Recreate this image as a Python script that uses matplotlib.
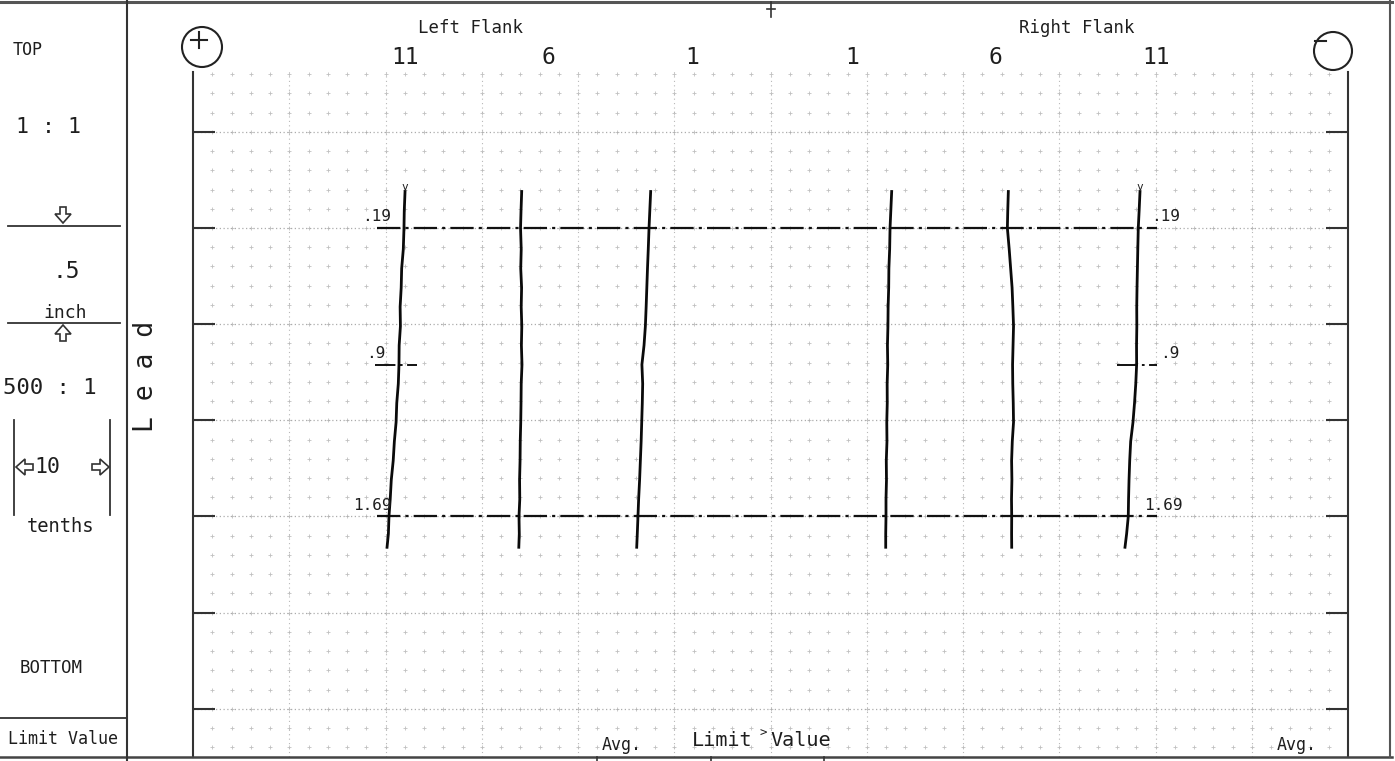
import numpy as np
import matplotlib
matplotlib.use("Agg")
import matplotlib.pyplot as plt
from matplotlib.patches import Circle, Polygon

# ---------------- data ----------------
# lead positions along the face width (inch)
lead = [0.00, 0.10, 0.19, 0.30, 0.40, 0.50, 0.60, 0.70, 0.80, 0.90,
        1.00, 1.10, 1.20, 1.30, 1.40, 1.50, 1.60, 1.69, 1.78, 1.85]

# traced lead curves (position across chart, in tenths)
left_11 = [22.03, 21.95, 21.92, 21.85, 21.68, 21.63, 21.52, 21.55, 21.42, 21.40,
           21.33, 21.17, 21.10, 20.92, 20.80, 20.60, 20.49, 20.36, 20.30, 20.16]
left_6 = [34.15, 34.08, 34.03, 34.10, 34.05, 34.14, 34.10, 34.16, 34.12, 34.18,
          34.10, 34.08, 34.05, 34.00, 33.98, 33.93, 33.95, 33.87, 33.90, 33.85]
left_1 = [47.55, 47.46, 47.38, 47.30, 47.22, 47.15, 47.08, 47.00, 46.86, 46.64,
          46.72, 46.68, 46.62, 46.56, 46.48, 46.40, 46.30, 46.23, 46.16, 46.10]
right_1 = [72.59, 72.50, 72.42, 72.38, 72.30, 72.28, 72.22, 72.20, 72.15, 72.18,
           72.12, 72.13, 72.08, 72.10, 72.03, 72.05, 72.00, 72.00, 71.97, 71.97]
right_6 = [84.71, 84.65, 84.61, 84.80, 84.95, 85.10, 85.18, 85.25, 85.20, 85.15,
           85.17, 85.22, 85.25, 85.12, 85.05, 85.08, 85.04, 85.06, 85.05, 85.06]
right_11 = [98.39, 98.30, 98.21, 98.16, 98.12, 98.08, 98.05, 98.06, 98.03, 98.04,
            97.95, 97.82, 97.66, 97.42, 97.32, 97.25, 97.20, 97.17, 97.00, 96.83]
traces = [left_11, left_6, left_1, right_1, right_6, right_11]

tooth_labels = ["11", "6", "1", "1", "6", "11"]
limit_full = [0.19, 1.69]          # evaluation range limits
limit_mid = 0.9                     # mid marker
limit_labels = [".19", ".9", "1.69"]
major_rows = [-0.31, 0.19, 0.69, 1.19, 1.69, 2.19, 2.69]

# ---------------- figure ----------------
W, H = 1395, 761
fig = plt.figure(figsize=(W / 100, H / 100), dpi=100)
fig.patch.set_facecolor("white")
MONO = "DejaVu Sans Mono"
TC = "#1e1e1e"

y0_px, px_per_in = 191.5, 192.3
top_px, bot_px = 72, 757
ax = fig.add_axes([193 / W, 1 - bot_px / H, (1348 - 193) / W, (bot_px - top_px) / H])
ax.set_xlim(0, 120)
ax.set_ylim((bot_px - y0_px) / px_per_in, (top_px - y0_px) / px_per_in)
ax.set_facecolor("none")

# dotted grid
gx = np.arange(2, 120, 2)
gy = np.arange(-0.61, 2.92, 0.1)
GX, GY = np.meshgrid(gx, gy)
ax.scatter(GX.ravel(), GY.ravel(), marker="+", s=5, lw=0.6, color="#c0c0c0", zorder=1)
for x in range(10, 120, 10):
    ax.axvline(x, ls=(0, (1, 3)), color="#b8b8b8", lw=0.8, zorder=1)
for y in major_rows:
    ax.axhline(y, ls=(0, (1, 2)), color="#acacac", lw=0.9, zorder=1)

ax.set_xticks([])
ax.set_yticks(major_rows)
ax.tick_params(axis="y", direction="in", length=16, width=1.5, color="#333333",
               left=True, right=True, labelleft=False, labelright=False)
for s in ["top", "bottom"]:
    ax.spines[s].set_visible(False)
for s in ["left", "right"]:
    ax.spines[s].set_linewidth(1.5)
    ax.spines[s].set_color("#333333")

# limit lines
dd = (0, (10.5, 2.3, 1.4, 2.3))
for y in limit_full:
    ax.hlines(y, 19.1, 100.2, colors="#111111", lw=1.6, linestyles=[dd], zorder=3)
ax.hlines(limit_mid, 18.9, 23.3, colors="#111111", lw=1.4, linestyles=[dd], zorder=3)
ax.hlines(limit_mid, 96.0, 100.2, colors="#111111", lw=1.4, linestyles=[dd], zorder=3)

# traces
for tr in traces:
    ax.plot(tr, lead, color="#0a0a0a", lw=2.0, zorder=4, solid_joinstyle="round")
# start markers of the 11th-tooth traces
for tr in (left_11, right_11):
    ax.text(tr[0], lead[0], "v", ha="center", va="bottom", fontsize=8,
            family=MONO, color=TC, zorder=5)

# limit labels
lab_y = [limit_full[0], limit_mid, limit_full[1]]
left_x = [20.6, 20.0, 20.6]
right_x = [99.5, 100.5, 98.8]
for ly, lt, lx, rx in zip(lab_y, limit_labels, left_x, right_x):
    ax.text(lx, ly - 0.02, lt, ha="right", va="bottom", fontsize=11.5,
            family=MONO, color=TC, zorder=5)
    ax.text(rx, ly - 0.02, lt, ha="left", va="bottom", fontsize=11.5,
            family=MONO, color=TC, zorder=5)

# ---------------- overlay (frame & annotations) ----------------
ov = fig.add_axes([0, 0, 1, 1])
ov.set_xlim(0, W)
ov.set_ylim(H, 0)
ov.axis("off")
LC = "#333333"
ov.plot([0, 1392], [1.5, 1.5], color="#555555", lw=2.2)
ov.plot([0, 1392], [756.5, 756.5], color="#444444", lw=1.8)
ov.plot([126.5, 126.5], [0, 761], color=LC, lw=1.5)
ov.plot([1390, 1390], [0, 757], color="#555555", lw=1.5)
for bx in [597, 711, 824]:
    ov.plot([bx, bx], [757, 761], color=LC, lw=1.2)
# left panel separators
ov.plot([8, 120], [226, 226], color=LC, lw=1.3)
ov.plot([8, 120], [323, 323], color=LC, lw=1.3)
ov.plot([0, 126], [718, 718], color=LC, lw=1.3)
ov.plot([14, 14], [420, 515], color=LC, lw=1.3)
ov.plot([110, 110], [420, 515], color=LC, lw=1.3)

def hollow_arrow(pts):
    ov.add_patch(Polygon(pts, closed=True, fill=False, ec=LC, lw=1.2))

# down arrow
hollow_arrow([(60, 207), (66, 207), (66, 214), (71, 214), (63, 223), (55, 214), (60, 214)])
# up arrow
hollow_arrow([(60, 341), (66, 341), (66, 334), (71, 334), (63, 325), (55, 334), (60, 334)])
# left arrow
hollow_arrow([(33, 464), (33, 470), (25, 470), (25, 475), (16, 467), (25, 459), (25, 464)])
# right arrow
hollow_arrow([(92, 464), (92, 470), (100, 470), (100, 475), (109, 467), (100, 459), (100, 464)])

txt = dict(family=MONO, color=TC, ha="center", va="center")
ov.text(28, 50, "TOP", fontsize=12, **txt)
ov.text(49, 127, "1 : 1", fontsize=15.5, **txt)
ov.text(66, 272, ".5", fontsize=16.5, **txt)
ov.text(65, 313, "inch", fontsize=13, **txt)
ov.text(50, 388, "500 : 1", fontsize=16, **txt)
ov.text(47, 467, "10", fontsize=15.5, **txt)
ov.text(61, 527, "tenths", fontsize=13.5, **txt)
ov.text(51, 668, "BOTTOM", fontsize=12.5, **txt)
ov.text(63, 739, "Limit Value", fontsize=12, **txt)
ov.text(146, 376, "L e a d", fontsize=19, rotation=90, **txt)

ov.text(471, 28, "Left Flank", fontsize=12.5, **txt)
ov.text(1077, 28, "Right Flank", fontsize=12.5, **txt)
for lx, lt in zip([405, 548, 692, 852, 995, 1156], tooth_labels):
    ov.text(lx, 57, lt, fontsize=16.5, **txt)

ov.text(622, 745, "Avg.", fontsize=12, **txt)
ov.text(1297, 745, "Avg.", fontsize=12, **txt)
ov.text(752, 740, "Limit", fontsize=14.5, family=MONO, color=TC, ha="right", va="center")
ov.text(763, 733, ">", fontsize=9, **txt)
ov.text(770, 740, "Value", fontsize=14.5, family=MONO, color=TC, ha="left", va="center")

# circles (+ / -) and top marker
ov.add_patch(Circle((202, 47), 20, fill=False, ec="#222222", lw=1.5))
ov.plot([191, 207], [40, 40], color="#222222", lw=1.5)
ov.plot([199, 199], [32, 48], color="#222222", lw=1.5)
ov.add_patch(Circle((1333, 51), 19, fill=False, ec="#222222", lw=1.5))
ov.plot([1315, 1326], [41, 41], color="#222222", lw=1.5)
ov.plot([771, 771], [2, 17], color=LC, lw=1.2)
ov.plot([767, 775], [9, 9], color=LC, lw=1.2)

fig.savefig("out.png", dpi=100, facecolor="white")
